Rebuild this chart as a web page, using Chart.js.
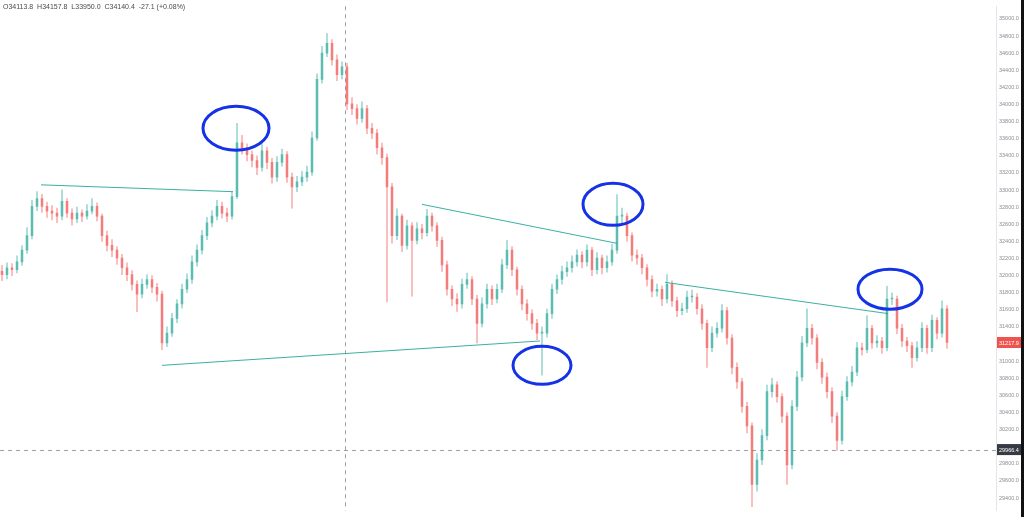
<!DOCTYPE html>
<html>
<head>
<meta charset="utf-8">
<script src="https://cdn.jsdelivr.net/npm/chart.js@4.4.1/dist/chart.umd.min.js"></script>
<style>
  html, body { margin: 0; padding: 0; background: #fff; overflow: hidden; }
  #wrap { width: 1024px; height: 517px; position: relative; }
</style>
</head>
<body>
<div id="wrap"><canvas id="candles" width="1024" height="517"></canvas></div>
<script>
// price data, one candle per entry (open = previous close)
const firstOpen = 32050;
const closes = [
  32012, 32092, 32069, 32160, 32297, 32468, 32810, 32901, 32810, 32753,
  32730, 32696, 32867, 32730, 32662, 32730, 32696, 32753, 32810, 32696,
  32468, 32354, 32297, 32206, 32092, 32012, 31898, 31784, 31898, 31955,
  31864, 31784, 31214, 31328, 31499, 31670, 31841, 31955, 32160, 32297,
  32468, 32616, 32696, 32810, 32730, 32696, 32924, 33551, 33494, 33415,
  33346, 33266, 33460, 33323, 33152, 33323, 33415, 33152, 33038, 33095,
  33152, 33209, 33609, 34293, 34601, 34715, 34521, 34350, 34441, 34008,
  33951, 33837, 33951, 33723, 33666, 33495, 33380, 33038, 32468, 32696,
  32354, 32582, 32411, 32548, 32502, 32696, 32582, 32411, 32126, 31841,
  31727, 31670, 31898, 31955, 31727, 31442, 31670, 31841, 31727, 31841,
  32126, 32297, 32069, 31841, 31670, 31556, 31442, 31328, 31328, 31556,
  31841, 31955, 32046, 32092, 32160, 32240, 32160, 32297, 32069, 32206,
  32092, 32160, 32297, 32696, 32696, 32468, 32240, 32206, 32092, 31955,
  31818, 31841, 31727, 31898, 31704, 31590, 31613, 31750, 31750, 31613,
  31442, 31157, 31328, 31385, 31590, 31271, 30928, 30757, 30472, 30244,
  29560, 29845, 30130, 30643, 30723, 30586, 30358, 29788, 30472, 30814,
  31214, 31385, 31271, 30985, 30814, 30643, 30358, 30073, 30586, 30757,
  30871, 31157, 31134, 31385, 31214, 31236, 31157, 31727, 31727, 31385,
  31236, 31180, 31042, 31157, 31385, 31157, 31476, 31328, 31613, 31217.9
];
const highs = [
  32120, 32150, 32140, 32230, 32350, 32560, 32880, 32981, 32950, 32860,
  32820, 32790, 33004, 32900, 32780, 32800, 32770, 32830, 32900, 32850,
  32720, 32520, 32420, 32340, 32250, 32150, 32060, 31940, 31960, 32010,
  32000, 31910, 31820, 31400, 31560, 31720, 31900, 32020, 32230, 32360,
  32530, 32680, 32760, 32880, 32860, 32790, 32980, 33780, 33640, 33540,
  33460, 33400, 33551, 33500, 33370, 33390, 33480, 33450, 33200, 33160,
  33220, 33280, 33680, 34360, 34680, 34829, 34760, 34580, 34500, 34480,
  34080, 34000, 34030, 33990, 33780, 33710, 33550, 33420, 33080, 32780,
  32720, 32650, 32620, 32620, 32600, 32776, 32730, 32620, 32450, 32170,
  31880, 31790, 31960, 32030, 31990, 31770, 31740, 31900, 31880, 31900,
  32190, 32411, 32340, 32100, 31880, 31720, 31600, 31490, 31400, 31610,
  31900, 32010, 32110, 32160, 32230, 32300, 32280, 32360, 32330, 32270,
  32240, 32230, 32370, 32947, 32790, 32730, 32500, 32300, 32250, 32130,
  32000, 31900, 31880, 32012, 31940, 31750, 31680, 31820, 31830, 31790,
  31660, 31480, 31400, 31450, 31660, 31630, 31310, 30980, 30800, 30520,
  30280, 29920, 30200, 30720, 30800, 30760, 30620, 30400, 30540, 30880,
  31290, 31613, 31430, 31310, 31030, 30860, 30690, 30400, 30650, 30820,
  30940, 31220, 31210, 31533, 31420, 31300, 31280, 31875, 31800, 31760,
  31430, 31280, 31220, 31230, 31450, 31420, 31540, 31510, 31704, 31650
];
const lows = [
  31940, 31960, 32000, 32030, 32120, 32260, 32430, 32760, 32740, 32680,
  32650, 32620, 32650, 32680, 32590, 32620, 32630, 32660, 32720, 32640,
  32400, 32290, 32220, 32130, 32010, 31940, 31830, 31579, 31740, 31850,
  31800, 31700, 31134, 31170, 31290, 31450, 31620, 31800, 31910, 32110,
  32250, 32420, 32570, 32650, 32670, 32630, 32660, 32900, 33420, 33340,
  33270, 33180, 33220, 33250, 33080, 33100, 33280, 33090, 32787, 32980,
  33050, 33100, 33170, 33580, 34250, 34560, 34460, 34280, 34300, 33940,
  33880, 33770, 33790, 33660, 33600, 33420, 33300, 31693, 32380, 32420,
  32280, 32310, 31761, 32370, 32430, 32460, 32520, 32340, 32050, 31770,
  31650, 31580, 31620, 31850, 31660, 31214, 31400, 31620, 31660, 31680,
  31800, 32080, 32000, 31770, 31600, 31480, 31370, 31250, 30837, 31280,
  31500, 31790, 31900, 31990, 32040, 32110, 32090, 32110, 32000, 32020,
  32020, 32040, 32120, 32260, 32600, 32400, 32170, 32130, 32020, 31880,
  31750, 31760, 31650, 31680, 31640, 31520, 31540, 31570, 31690, 31550,
  31370, 30928, 31110, 31280, 31340, 31200, 30850, 30680, 30400, 30160,
  29298, 29480, 29790, 30080, 30580, 30520, 30280, 29560, 29740, 30420,
  30770, 31170, 31200, 30910, 30740, 30570, 30280, 29959, 30030, 30540,
  30710, 30830, 31070, 31100, 31150, 31160, 31090, 31120, 31660, 31320,
  31170, 31110, 30928, 31000, 31110, 31090, 31110, 31260, 31280, 31150
];
const yTicks = [
  29400, 29600, 29800, 30000, 30200, 30400, 30600, 30800, 31000, 31200,
  31400, 31600, 31800, 32000, 32200, 32400, 32600, 32800, 33000, 33200,
  33400, 33600, 33800, 34000, 34200, 34400, 34600, 34800, 35000
];
const headerText = 'O34113.8  H34157.8  L33950.0  C34140.4  -27.1 (+0.08%)';
const lastPrice = 31217.9;
const crossPrice = 29966.4;
const crossIndex = 68.6;

// drawn markup, in (candle index, price)
const trendLines = [
  [[7.8, 33061], [46.2, 32981]],
  [[32, 30951], [107.6, 31236]],
  [[84, 32833], [123, 32377]],
  [[132.6, 31921], [177.2, 31556]]
];
const circled = [[46.8, 33723], [108, 30951], [122.2, 32833], [177.6, 31841]];
const circleRadii = [[33, 22], [29, 19], [30, 21], [32, 20]];

const opens = closes.map((c, i) => i === 0 ? firstOpen : closes[i - 1]);
const isUp = i => closes[i] >= opens[i];
const wickColor = ctx => isUp(ctx.dataIndex) ? 'rgba(38, 166, 154, 0.45)' : 'rgba(239, 83, 80, 0.45)';
const bodyColor = ctx => isUp(ctx.dataIndex) ? 'rgba(38, 166, 154, 0.6)' : 'rgba(239, 83, 80, 0.6)';
const axisFont = '"Liberation Sans", Arial, sans-serif';

const markup = {
  id: 'markup',
  beforeDatasetsDraw(chart) {
    const { ctx, chartArea, scales: { x, y } } = chart;
    ctx.save();
    ctx.strokeStyle = '#9aa0a8';
    ctx.lineWidth = 1;
    ctx.setLineDash([4, 4]);
    const cx = Math.round(x.getPixelForValue(crossIndex)) + 0.5;
    const cy = Math.round(y.getPixelForValue(crossPrice)) + 0.5;
    ctx.beginPath();
    ctx.moveTo(cx, chartArea.top);
    ctx.lineTo(cx, chartArea.bottom);
    ctx.moveTo(chartArea.left, cy);
    ctx.lineTo(chartArea.right, cy);
    ctx.stroke();
    ctx.restore();
  },
  afterDatasetsDraw(chart) {
    const { ctx, scales: { x, y } } = chart;
    ctx.save();
    ctx.strokeStyle = 'rgba(38, 166, 154, 0.9)';
    ctx.lineWidth = 1;
    trendLines.forEach(([a, b]) => {
      ctx.beginPath();
      ctx.moveTo(x.getPixelForValue(a[0]), y.getPixelForValue(a[1]));
      ctx.lineTo(x.getPixelForValue(b[0]), y.getPixelForValue(b[1]));
      ctx.stroke();
    });
    ctx.strokeStyle = '#1432e6';
    ctx.lineWidth = 3;
    circled.forEach((p, k) => {
      ctx.beginPath();
      ctx.ellipse(x.getPixelForValue(p[0]), y.getPixelForValue(p[1]),
        circleRadii[k][0], circleRadii[k][1], 0, 0, Math.PI * 2);
      ctx.stroke();
    });
    ctx.restore();
  },
  afterDraw(chart) {
    const { ctx, chartArea, scales: { y } } = chart;
    ctx.save();
    // price tags on the axis
    const tag = (price, bg) => {
      const py = y.getPixelForValue(price);
      ctx.fillStyle = bg;
      ctx.fillRect(chartArea.right + 1, py - 5.5, 24, 11);
      ctx.fillStyle = '#fff';
      ctx.font = '5.5px ' + axisFont;
      ctx.textBaseline = 'middle';
      ctx.textAlign = 'left';
      ctx.fillText(price.toFixed(1), chartArea.right + 3, py + 0.5);
    };
    tag(lastPrice, '#ef5350');
    tag(crossPrice, '#363a45');
    // OHLC header
    ctx.fillStyle = '#4a4a4a';
    ctx.font = '7px ' + axisFont;
    ctx.textBaseline = 'middle';
    ctx.textAlign = 'left';
    ctx.fillText(headerText, 3, 7);
    // dark edge at the right
    ctx.fillStyle = '#111';
    ctx.fillRect(1021, 0, 3, chart.height);
    ctx.restore();
  }
};

new Chart(document.getElementById('candles'), {
  type: 'bar',
  data: {
    datasets: [
      {
        label: 'wick',
        data: closes.map((c, i) => ({ x: i, y: [lows[i], highs[i]] })),
        backgroundColor: wickColor,
        barThickness: 1,
        grouped: false,
        order: 2
      },
      {
        label: 'body',
        data: closes.map((c, i) => ({ x: i, y: [opens[i], c] })),
        backgroundColor: bodyColor,
        barThickness: 2,
        minBarLength: 1,
        grouped: false,
        order: 1
      }
    ]
  },
  options: {
    responsive: false,
    animation: false,
    layout: { padding: 0 },
    plugins: { legend: { display: false }, tooltip: { enabled: false } },
    scales: {
      x: {
        type: 'linear',
        offset: false,
        bounds: 'ticks',
        min: -0.4,
        max: 198.8,
        display: false
      },
      y: {
        position: 'right',
        min: 29252,
        max: 35148,
        afterFit: s => { s.width = 28; },
        afterBuildTicks: s => { s.ticks = yTicks.map(v => ({ value: v })); },
        grid: { drawOnChartArea: false, drawTicks: false },
        border: { display: true, color: '#e3e5ea' },
        ticks: {
          padding: 3,
          color: '#8a8d95',
          font: { size: 5.5, family: axisFont },
          callback: v => Number(v).toFixed(1)
        }
      }
    }
  },
  plugins: [markup]
});
</script>
</body>
</html>
